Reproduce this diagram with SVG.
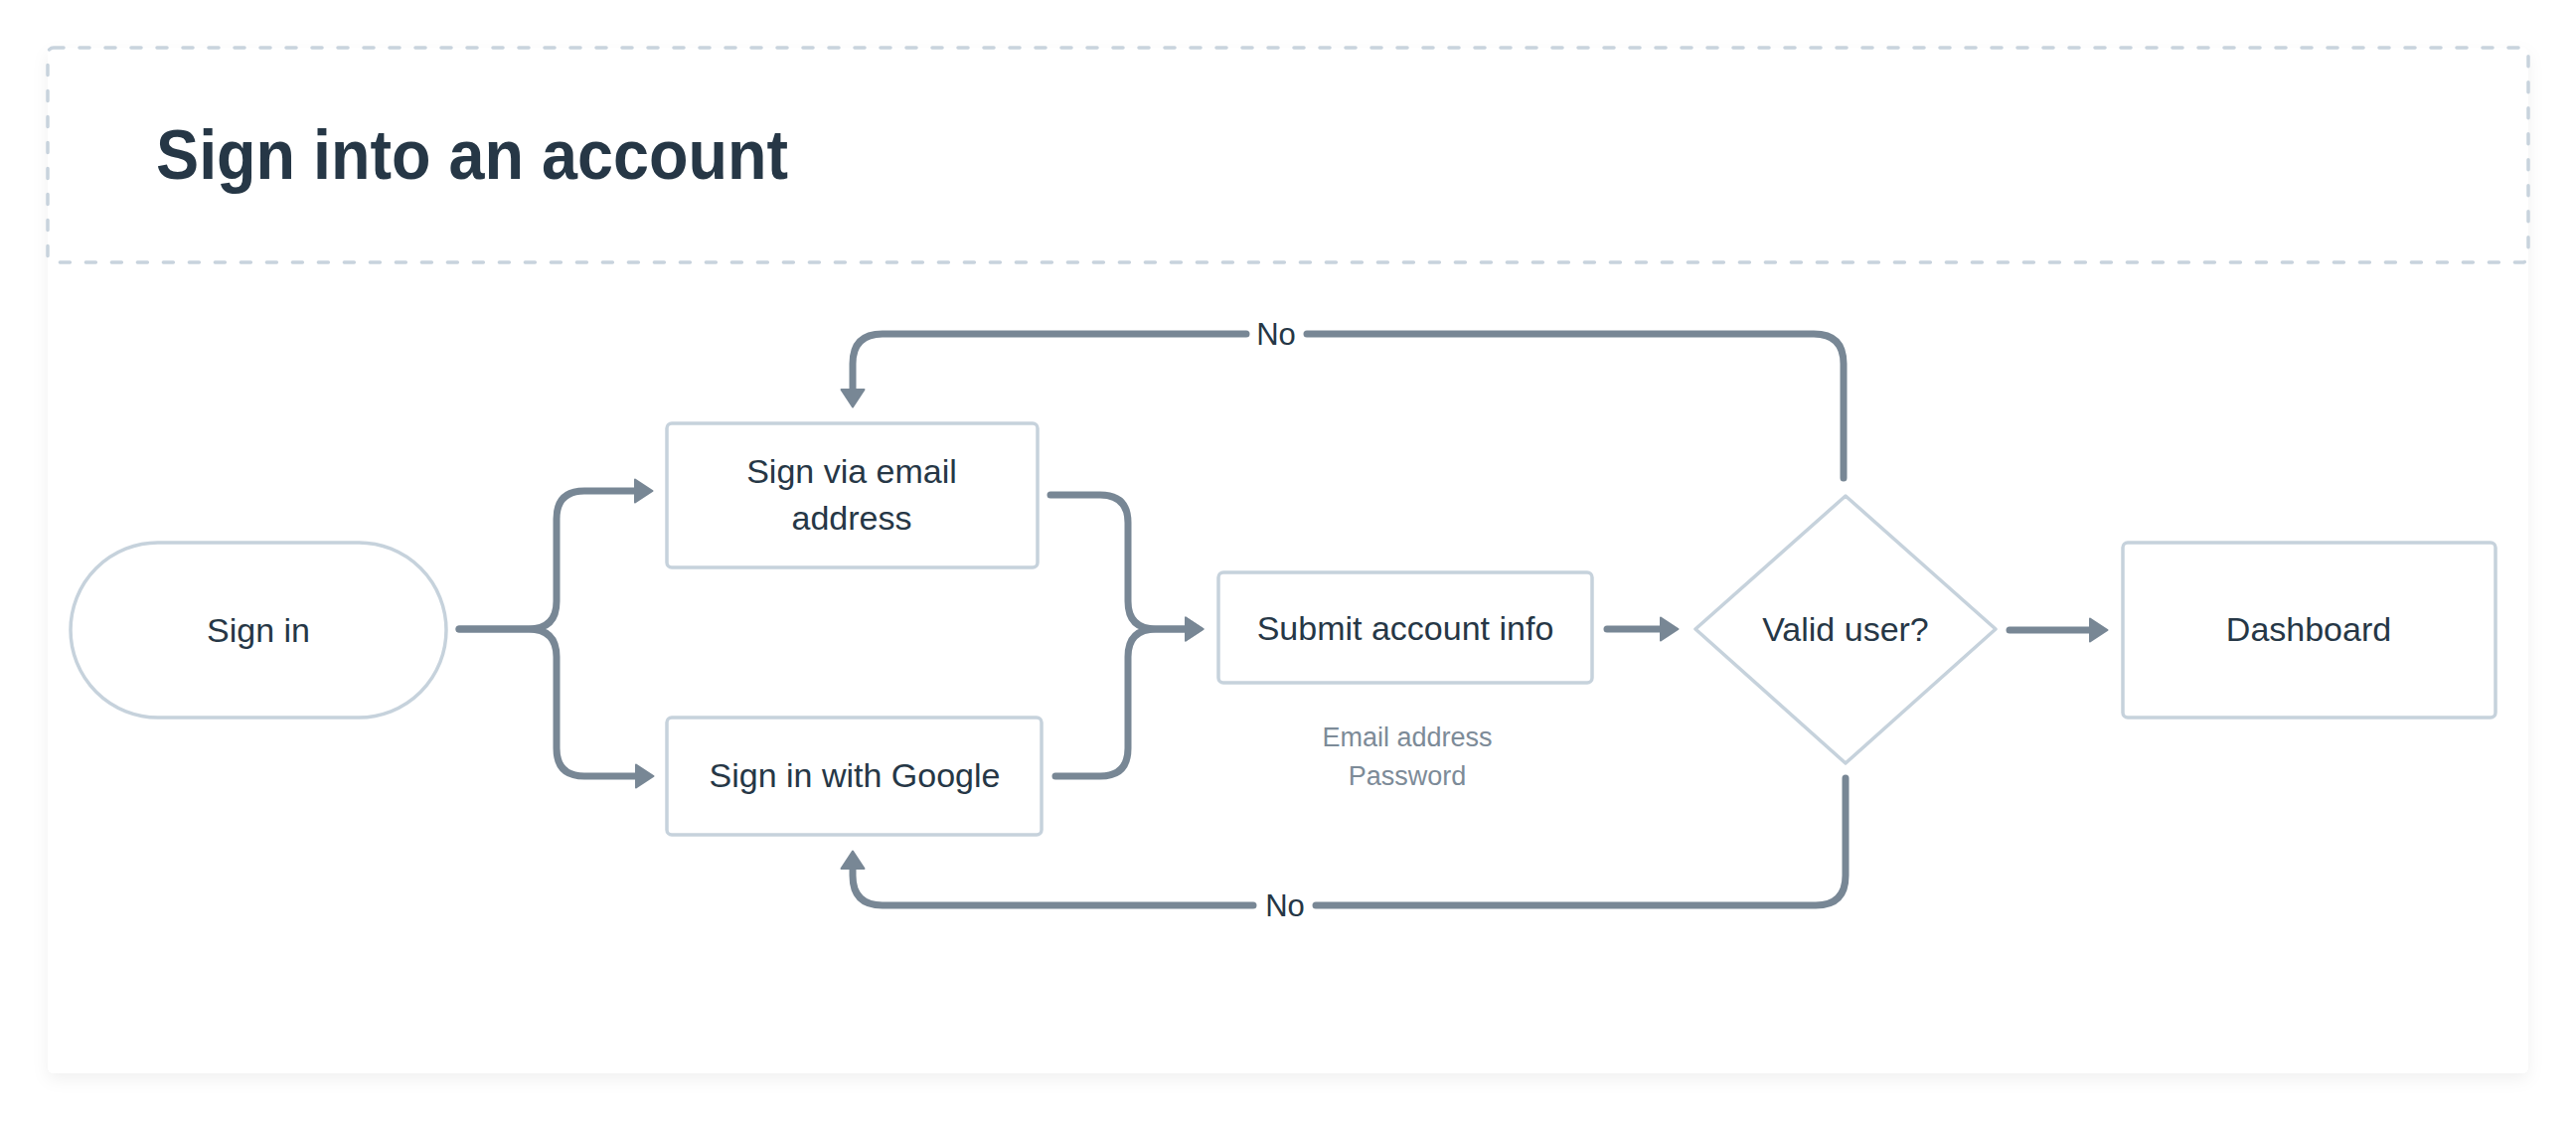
<svg xmlns="http://www.w3.org/2000/svg" width="2592" height="1128" viewBox="0 0 2592 1128">
  <defs>
    <filter id="shadow" x="-5%" y="-5%" width="110%" height="115%">
      <feDropShadow dx="0" dy="6" stdDeviation="8" flood-color="#000000" flood-opacity="0.06"/>
    </filter>
    <marker id="arrow" markerUnits="userSpaceOnUse" viewBox="0 0 20 26" markerWidth="20" markerHeight="26" refX="3" refY="13" orient="auto">
      <path d="M1,1.5 L18.5,13 L1,24.5 Z" fill="#788795" stroke="#788795" stroke-width="2" stroke-linejoin="round"/>
    </marker>
    <style>
      .node { fill: #ffffff; stroke: #c6d2dc; stroke-width: 3.5; }
      .label { font-family: "Liberation Sans", Arial, sans-serif; font-size: 34px; fill: #263746; text-anchor: middle; }
      .sub { font-family: "Liberation Sans", Arial, sans-serif; font-size: 27px; fill: #7d8b98; text-anchor: middle; }
      .edge { fill: none; stroke: #788795; stroke-width: 7; stroke-linecap: round; stroke-linejoin: round; }
      .elabel { font-family: "Liberation Sans", Arial, sans-serif; font-size: 31px; fill: #263746; text-anchor: middle; }
    </style>
  </defs>

  <rect x="0" y="0" width="2592" height="1128" fill="#ffffff"/>

  <g id="card">
    <rect x="48" y="48" width="2496" height="1032" rx="6" fill="#ffffff" filter="url(#shadow)"/>
    <rect x="48" y="48" width="2496" height="216" rx="6" fill="none" stroke="#c8d3dd" stroke-width="3.5" stroke-dasharray="10 16" stroke-linecap="round"/>
    <text x="157" y="180" font-family="'Liberation Sans', Arial, sans-serif" font-size="70" font-weight="bold" fill="#263746" textLength="636" lengthAdjust="spacingAndGlyphs">Sign into an account</text>
  </g>

  <g id="connectors">
    <path class="edge" d="M462,633 H532 Q560,633 560,605 V522 Q560,494 588,494 H641" marker-end="url(#arrow)"/>
    <path class="edge" d="M462,633 H532 Q560,633 560,661 V753 Q560,781 588,781 H642" marker-end="url(#arrow)"/>
    <path class="edge" d="M1057,498 H1107 Q1135,498 1135,526 V605 Q1135,633 1163,633 H1195" marker-end="url(#arrow)"/>
    <path class="edge" d="M1062,781 H1107 Q1135,781 1135,753 V661 Q1135,633 1163,633 H1195" marker-end="url(#arrow)"/>
    <path class="edge" d="M1617,633 H1673" marker-end="url(#arrow)"/>
    <path class="edge" d="M2022,634 H2105" marker-end="url(#arrow)"/>
    <path class="edge" d="M1855,481 V366 Q1855,336 1825,336 H1315"/>
    <path class="edge" d="M1254,336 H888 Q858,336 858,366 V394" marker-end="url(#arrow)"/>
    <text class="elabel" x="1284" y="347">No</text>
    <path class="edge" d="M1857,783 V881 Q1857,911 1827,911 H1324"/>
    <path class="edge" d="M1261,911 H888 Q858,911 858,881 V872" marker-end="url(#arrow)"/>
    <text class="elabel" x="1293" y="922">No</text>
  </g>

  <g id="node-sign-in">
    <rect class="node" x="71" y="546" width="378" height="176" rx="88"/>
    <text class="label" x="260" y="646">Sign in</text>
  </g>

  <g id="node-email">
    <rect class="node" x="671" y="426" width="373" height="145" rx="5"/>
    <text class="label" x="857" y="486">Sign via email</text>
    <text class="label" x="857" y="533">address</text>
  </g>

  <g id="node-google">
    <rect class="node" x="671" y="722" width="377" height="118" rx="5"/>
    <text class="label" x="860" y="792">Sign in with Google</text>
  </g>

  <g id="node-submit">
    <rect class="node" x="1226" y="576" width="376" height="111" rx="5"/>
    <text class="label" x="1414" y="644">Submit account info</text>
    <text class="sub" x="1416" y="751">Email address</text>
    <text class="sub" x="1416" y="790">Password</text>
  </g>

  <g id="node-valid">
    <polygon class="node" points="1857,499 2008,633 1857,768 1706,633" stroke-linejoin="round"/>
    <text class="label" x="1857" y="645">Valid user?</text>
  </g>

  <g id="node-dashboard">
    <rect class="node" x="2136" y="546" width="375" height="176" rx="5"/>
    <text class="label" x="2323" y="645">Dashboard</text>
  </g>
</svg>
